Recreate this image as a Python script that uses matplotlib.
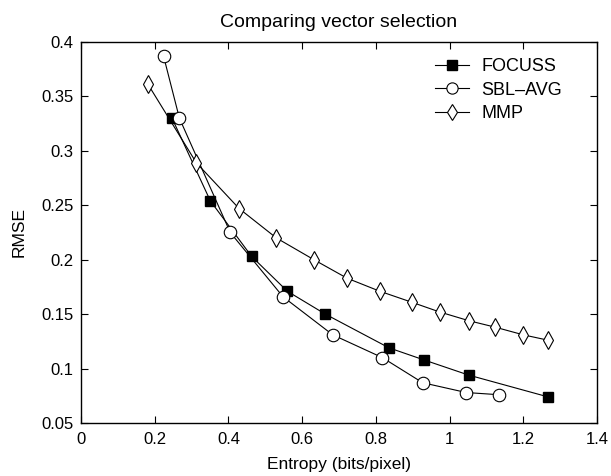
import matplotlib
matplotlib.use("Agg")
import matplotlib.pyplot as plt

plt.rcParams['font.family'] = ['Liberation Sans', 'DejaVu Sans']

# data
focuss_x = [0.247, 0.351, 0.463, 0.560, 0.663, 0.836, 0.930, 1.052, 1.267]
focuss_y = [0.330, 0.254, 0.203, 0.171, 0.150, 0.119, 0.108, 0.094, 0.074]

sbl_x = [0.224, 0.267, 0.405, 0.548, 0.683, 0.818, 0.927, 1.045, 1.133]
sbl_y = [0.387, 0.330, 0.225, 0.166, 0.131, 0.110, 0.087, 0.078, 0.076]

mmp_x = [0.182, 0.313, 0.429, 0.530, 0.632, 0.722, 0.811, 0.897, 0.973,
         1.052, 1.124, 1.200, 1.268]
mmp_y = [0.361, 0.289, 0.247, 0.220, 0.200, 0.183, 0.171, 0.161, 0.152,
         0.144, 0.138, 0.131, 0.126]

x_ticks = [0, 0.2, 0.4, 0.6, 0.8, 1, 1.2, 1.4]
x_labels = ['0', '0.2', '0.4', '0.6', '0.8', '1', '1.2', '1.4']
y_ticks = [0.05, 0.1, 0.15, 0.2, 0.25, 0.3, 0.35, 0.4]
y_labels = ['0.05', '0.1', '0.15', '0.2', '0.25', '0.3', '0.35', '0.4']

fig = plt.figure(figsize=(6.11, 4.76), dpi=100)
ax = fig.add_axes([81 / 611, 1 - 423 / 476, (597 - 81) / 611, (423 - 42) / 476])

lw = 0.8
ax.plot(focuss_x, focuss_y, color='black', lw=lw, marker='s', ms=7.5,
        mfc='black', mec='black', label='FOCUSS')
ax.plot(sbl_x, sbl_y, color='black', lw=lw, marker='o', ms=9,
        mfc='white', mec='black', mew=0.8, label='SBL\u2013AVG')
ax.plot(mmp_x, mmp_y, color='black', lw=lw, marker='d', ms=9,
        mfc='white', mec='black', mew=0.8, label='MMP')

ax.set_xlim(0, 1.4)
ax.set_ylim(0.05, 0.4)
ax.set_xticks(x_ticks)
ax.set_xticklabels(x_labels)
ax.set_yticks(y_ticks)
ax.set_yticklabels(y_labels)
ax.tick_params(direction='in', top=True, right=True, length=5, width=0.8,
               labelsize=12)
ax.tick_params(axis='x', pad=6.5)
ax.tick_params(axis='y', pad=5.5)
for s in ax.spines.values():
    s.set_linewidth(1.0)

ax.set_title('Comparing vector selection', fontsize=14, pad=11)
ax.set_xlabel('Entropy (bits/pixel)', fontsize=12.5, labelpad=7)
ax.set_ylabel('RMSE', fontsize=12.5, labelpad=10)

ax.legend(loc='upper left', frameon=False, fontsize=13, handlelength=1.9,
          handletextpad=0.65, labelspacing=0.35, borderpad=0,
          borderaxespad=0, bbox_to_anchor=(0.686, 0.957), markerscale=0.9)

fig.savefig('out.png', dpi=100)
